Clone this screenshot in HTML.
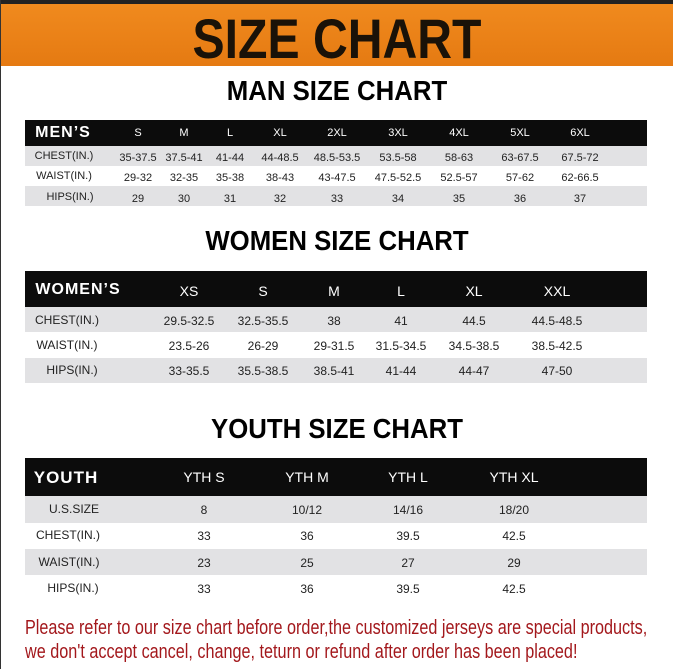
<!DOCTYPE html>
<html><head><meta charset="utf-8"><style>
*{margin:0;padding:0;box-sizing:border-box}
body{width:673px;height:669px;background:#fff;position:relative;overflow:hidden;font-family:"Liberation Sans",sans-serif}
.a{position:absolute}
.t{position:absolute;white-space:nowrap;transform:translateX(-50%);font-size:11px;color:#222}
.h{position:absolute;left:50%;white-space:nowrap;font-weight:bold;color:#000;transform:translateX(-50%) scaleX(0.92)}
.bar{position:absolute;left:25px;width:622px;background:#0c0c0c}
.g{position:absolute;left:25px;width:622px;background:#e2e2e4}
.w{color:#fff}
.v{font-size:12px}
</style></head><body>
<div class="a" style="left:0;top:0;width:673px;height:4px;background:#222"></div>
<div class="a" style="left:0;top:0;width:1px;height:669px;background:#333"></div>
<div class="a" style="left:1px;top:4px;width:672px;height:62px;background:linear-gradient(#f08a1e,#e57a12)"></div>
<div class="h" style="top:6px;font-size:56px;color:#1a1208;transform:translateX(-50%) scaleX(0.86)">SIZE CHART</div>
<div class="h" style="top:75px;font-size:28px">MAN SIZE CHART</div>
<div class="bar" style="top:120px;height:26px"></div>
<div class="g" style="top:146px;height:20px"></div>
<div class="g" style="top:186px;height:20px"></div>
<div class="t w" style="left:63px;top:124px;font-size:16px;font-weight:900;letter-spacing:1px">MEN’S</div>
<div class="t w" style="left:138px;top:127px">S</div><div class="t w" style="left:184px;top:127px">M</div><div class="t w" style="left:230px;top:127px">L</div><div class="t w" style="left:280px;top:127px">XL</div><div class="t w" style="left:337px;top:127px">2XL</div><div class="t w" style="left:398px;top:127px">3XL</div><div class="t w" style="left:459px;top:127px">4XL</div><div class="t w" style="left:520px;top:127px">5XL</div><div class="t w" style="left:580px;top:127px">6XL</div>
<div class="t" style="left:64px;top:150px">CHEST(IN.)</div><div class="t" style="left:138px;top:152px">35-37.5</div><div class="t" style="left:184px;top:152px">37.5-41</div><div class="t" style="left:230px;top:152px">41-44</div><div class="t" style="left:280px;top:152px">44-48.5</div><div class="t" style="left:337px;top:152px">48.5-53.5</div><div class="t" style="left:398px;top:152px">53.5-58</div><div class="t" style="left:459px;top:152px">58-63</div><div class="t" style="left:520px;top:152px">63-67.5</div><div class="t" style="left:580px;top:152px">67.5-72</div>
<div class="t" style="left:64px;top:170px">WAIST(IN.)</div><div class="t" style="left:138px;top:172px">29-32</div><div class="t" style="left:184px;top:172px">32-35</div><div class="t" style="left:230px;top:172px">35-38</div><div class="t" style="left:280px;top:172px">38-43</div><div class="t" style="left:337px;top:172px">43-47.5</div><div class="t" style="left:398px;top:172px">47.5-52.5</div><div class="t" style="left:459px;top:172px">52.5-57</div><div class="t" style="left:520px;top:172px">57-62</div><div class="t" style="left:580px;top:172px">62-66.5</div>
<div class="t" style="left:70px;top:191px">HIPS(IN.)</div><div class="t" style="left:138px;top:193px">29</div><div class="t" style="left:184px;top:193px">30</div><div class="t" style="left:230px;top:193px">31</div><div class="t" style="left:280px;top:193px">32</div><div class="t" style="left:337px;top:193px">33</div><div class="t" style="left:398px;top:193px">34</div><div class="t" style="left:459px;top:193px">35</div><div class="t" style="left:520px;top:193px">36</div><div class="t" style="left:580px;top:193px">37</div>

<div class="h" style="top:225px;font-size:28px">WOMEN SIZE CHART</div>
<div class="bar" style="top:271px;height:36px"></div>
<div class="g" style="top:307px;height:25px"></div>
<div class="g" style="top:358px;height:25px"></div>
<div class="t w" style="left:78px;top:281px;font-size:16px;font-weight:900;letter-spacing:1px">WOMEN’S</div>
<div class="t w" style="left:189px;top:283px;font-size:14px">XS</div><div class="t w" style="left:263px;top:283px;font-size:14px">S</div><div class="t w" style="left:334px;top:283px;font-size:14px">M</div><div class="t w" style="left:401px;top:283px;font-size:14px">L</div><div class="t w" style="left:474px;top:283px;font-size:14px">XL</div><div class="t w" style="left:557px;top:283px;font-size:14px">XXL</div>
<div class="t" style="left:67px;top:313px;font-size:12px">CHEST(IN.)</div><div class="t v" style="left:189px;top:314px">29.5-32.5</div><div class="t v" style="left:263px;top:314px">32.5-35.5</div><div class="t v" style="left:334px;top:314px">38</div><div class="t v" style="left:401px;top:314px">41</div><div class="t v" style="left:474px;top:314px">44.5</div><div class="t v" style="left:557px;top:314px">44.5-48.5</div>
<div class="t" style="left:67px;top:338px;font-size:12px">WAIST(IN.)</div><div class="t v" style="left:189px;top:339px">23.5-26</div><div class="t v" style="left:263px;top:339px">26-29</div><div class="t v" style="left:334px;top:339px">29-31.5</div><div class="t v" style="left:401px;top:339px">31.5-34.5</div><div class="t v" style="left:474px;top:339px">34.5-38.5</div><div class="t v" style="left:557px;top:339px">38.5-42.5</div>
<div class="t" style="left:72px;top:363px;font-size:12px">HIPS(IN.)</div><div class="t v" style="left:189px;top:364px">33-35.5</div><div class="t v" style="left:263px;top:364px">35.5-38.5</div><div class="t v" style="left:334px;top:364px">38.5-41</div><div class="t v" style="left:401px;top:364px">41-44</div><div class="t v" style="left:474px;top:364px">44-47</div><div class="t v" style="left:557px;top:364px">47-50</div>

<div class="h" style="top:413px;font-size:28px">YOUTH SIZE CHART</div>
<div class="bar" style="top:458px;height:38px"></div>
<div class="g" style="top:496px;height:27px"></div>
<div class="g" style="top:549px;height:26px"></div>
<div class="t w" style="left:66px;top:468px;font-size:17px;font-weight:900;letter-spacing:1px">YOUTH</div>
<div class="t w" style="left:204px;top:469px;font-size:14px">YTH S</div><div class="t w" style="left:307px;top:469px;font-size:14px">YTH M</div><div class="t w" style="left:408px;top:469px;font-size:14px">YTH L</div><div class="t w" style="left:514px;top:469px;font-size:14px">YTH XL</div>
<div class="t" style="left:74px;top:502px;font-size:12px">U.S.SIZE</div><div class="t v" style="left:204px;top:503px">8</div><div class="t v" style="left:307px;top:503px">10/12</div><div class="t v" style="left:408px;top:503px">14/16</div><div class="t v" style="left:514px;top:503px">18/20</div>
<div class="t" style="left:68px;top:528px;font-size:12px">CHEST(IN.)</div><div class="t v" style="left:204px;top:529px">33</div><div class="t v" style="left:307px;top:529px">36</div><div class="t v" style="left:408px;top:529px">39.5</div><div class="t v" style="left:514px;top:529px">42.5</div>
<div class="t" style="left:69px;top:555px;font-size:12px">WAIST(IN.)</div><div class="t v" style="left:204px;top:556px">23</div><div class="t v" style="left:307px;top:556px">25</div><div class="t v" style="left:408px;top:556px">27</div><div class="t v" style="left:514px;top:556px">29</div>
<div class="t" style="left:73px;top:581px;font-size:12px">HIPS(IN.)</div><div class="t v" style="left:204px;top:582px">33</div><div class="t v" style="left:307px;top:582px">36</div><div class="t v" style="left:408px;top:582px">39.5</div><div class="t v" style="left:514px;top:582px">42.5</div>

<div class="a" style="left:25px;top:617px;white-space:nowrap;font-size:20px;color:#a3181c;transform-origin:0 0;transform:scaleX(0.81)">Please refer to our size chart before order,the customized jerseys are special products,</div>
<div class="a" style="left:25px;top:641px;white-space:nowrap;font-size:20px;color:#a3181c;transform-origin:0 0;transform:scaleX(0.81)">we don't accept cancel, change, teturn or refund after order has been placed!</div>
</body></html>
